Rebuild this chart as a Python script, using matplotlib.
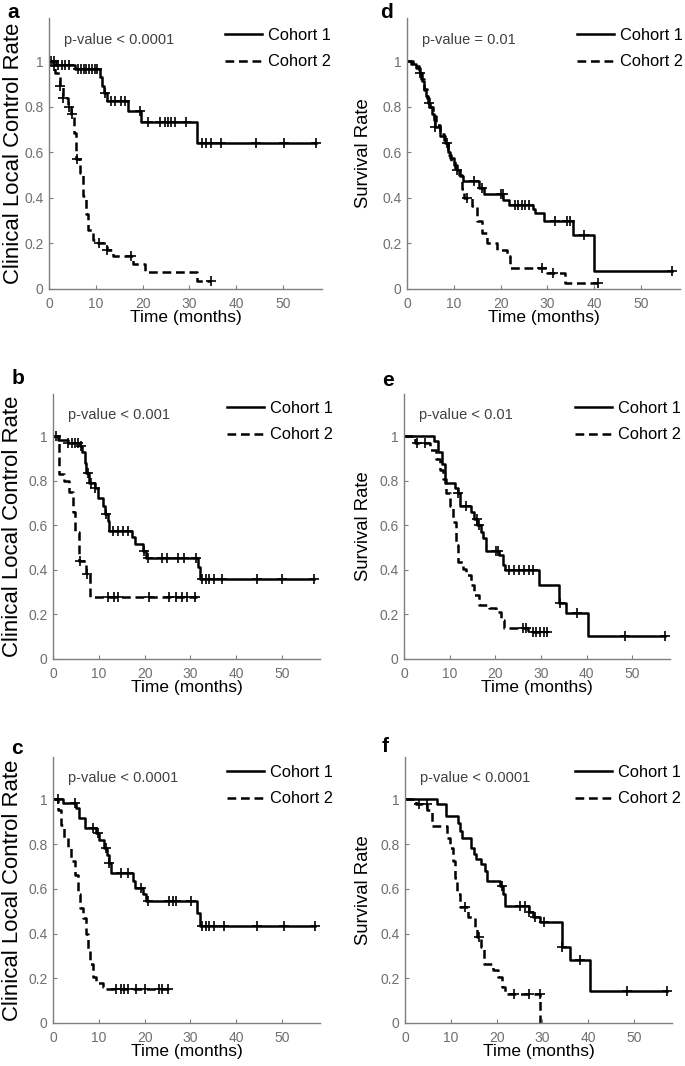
import numpy as np
import matplotlib
matplotlib.use("Agg")
import matplotlib.pyplot as plt

plt.rcParams['font.family'] = ['Liberation Sans', 'DejaVu Sans']

# ---- data: Kaplan-Meier steps (time, survival) ----
# panel a
a1_t = [0, 1.5, 5.5, 10.8, 11.3, 11.8, 12.4, 16.9, 19.6, 31.6]
a1_s = [1, 0.982, 0.966, 0.93, 0.89, 0.86, 0.824, 0.78, 0.733, 0.641]
a1_end = 57.0
a1_cens = [0.5, 1.0, 2.0, 2.8, 3.5, 4.3, 6.2, 6.8, 7.4, 8.0, 8.6, 9.2, 9.8, 10.3,
           12.0, 13.2, 14.2, 15.3, 16.2, 19.5, 21.2, 23.6, 24.7, 25.4, 26.1, 26.9,
           29.3, 32.7, 33.6, 34.7, 36.8, 44.3, 50.2, 57.0]
a2_t = [0, 0.8, 1.2, 2.3, 3.0, 4.1, 4.8, 5.3, 5.7, 6.6, 7.3, 8.0, 8.3, 9.4, 10.5,
        12.3, 13.7, 17.9, 20.4, 31.5]
a2_s = [1, 0.98, 0.95, 0.89, 0.84, 0.80, 0.77, 0.685, 0.57, 0.51, 0.41, 0.33, 0.26,
        0.217, 0.20, 0.173, 0.146, 0.11, 0.073, 0.037]
a2_end = 34.7
a2_cens = [1.0, 2.3, 3.0, 4.3, 4.9, 5.9, 10.6, 12.4, 17.6, 34.7]

# panel b
b1_t = [0, 1.1, 3.3, 5.8, 6.4, 6.9, 7.2, 7.8, 9.1, 9.8, 10.9, 11.4, 12.0, 12.3,
        17.2, 17.8, 19.6, 20.3, 31.7, 32.1]
b1_s = [1, 0.985, 0.97, 0.955, 0.93, 0.88, 0.836, 0.79, 0.77, 0.725, 0.688, 0.65,
        0.62, 0.577, 0.547, 0.517, 0.487, 0.455, 0.413, 0.361]
b1_end = 56.9
b1_cens = [0.7, 3.3, 4.1, 4.8, 5.5, 6.2, 7.6, 8.3, 9.1, 11.6, 13.0, 14.1, 15.2,
           16.3, 19.9, 20.7, 23.9, 25.0, 27.2, 28.6, 31.2, 32.6, 33.3, 34.1, 35.2,
           37.0, 44.6, 50.0, 56.9]
b2_t = [0, 1.3, 2.5, 3.6, 4.3, 4.9, 5.7, 7.2, 8.0]
b2_s = [1, 0.83, 0.80, 0.75, 0.66, 0.57, 0.44, 0.383, 0.277]
b2_end = 31.5
b2_cens = [5.8, 7.4, 12.0, 13.4, 14.3, 21.0, 25.4, 26.8, 28.1, 29.3, 31.1]

# panel c
c1_t = [0, 2.2, 5.1, 5.7, 6.9, 9.4, 10.1, 11.2, 11.7, 12.2, 12.7, 17.4, 18.0,
        19.6, 20.3, 31.5, 32.0]
c1_s = [1, 0.982, 0.96, 0.916, 0.871, 0.849, 0.82, 0.782, 0.753, 0.716, 0.67,
        0.634, 0.604, 0.575, 0.545, 0.493, 0.434]
c1_end = 57.2
c1_cens = [1.1, 4.7, 8.7, 9.8, 11.6, 12.3, 14.9, 16.3, 19.2, 20.7, 25.4, 26.1,
           26.8, 30.1, 32.6, 33.3, 34.0, 35.1, 37.3, 44.6, 50.4, 57.2]
c2_t = [0, 1.1, 1.8, 2.5, 3.3, 4.0, 4.7, 5.4, 5.8, 6.5, 7.1, 7.6, 8.1, 8.7, 9.4,
        10.9, 11.4]
c2_s = [1, 0.953, 0.886, 0.827, 0.782, 0.723, 0.664, 0.575, 0.516, 0.47, 0.397,
        0.33, 0.264, 0.204, 0.178, 0.16, 0.153]
c2_end = 25.8
c2_cens = [13.8, 14.9, 15.6, 16.3, 18.1, 20.1, 23.2, 23.9, 25.2]

# panel d
d1_t = [0, 0.9, 2.0, 2.7, 3.2, 3.7, 4.1, 4.4, 5.0, 5.3, 5.7, 6.0, 7.1, 8.2, 8.7,
        9.2, 10.0, 10.7, 11.4, 11.9, 15.4, 16.4, 20.6, 21.7, 26.9, 27.4, 29.2,
        35.5, 40.0]
d1_s = [1, 0.99, 0.97, 0.95, 0.912, 0.876, 0.846, 0.817, 0.80, 0.77, 0.74, 0.71,
        0.67, 0.64, 0.60, 0.575, 0.546, 0.524, 0.495, 0.473, 0.445, 0.415, 0.39,
        0.37, 0.35, 0.334, 0.30, 0.238, 0.078]
d1_end = 56.5
d1_cens = [2.8, 4.6, 6.0, 8.5, 10.7, 14.3, 16.0, 20.0, 20.5, 23.1, 23.8, 24.5,
           25.2, 26.0, 31.7, 34.1, 34.9, 37.7, 56.5]
d2_t = [0, 1.2, 2.5, 3.0, 3.6, 4.2, 4.8, 5.5, 6.2, 7.0, 8.0, 8.8, 9.5, 10.3, 11.0,
        11.7, 12.2, 13.9, 14.9, 16.0, 17.1, 19.2, 21.3, 22.0, 30.0, 33.8]
d2_s = [1, 0.98, 0.96, 0.92, 0.88, 0.84, 0.80, 0.76, 0.72, 0.68, 0.64, 0.59, 0.56,
        0.53, 0.50, 0.44, 0.40, 0.363, 0.30, 0.246, 0.20, 0.173, 0.143, 0.094,
        0.072, 0.026]
d2_end = 40.8
d2_cens = [12.8, 28.8, 31.2, 40.8]

# panel e
e1_t = [0, 6.5, 7.5, 8.4, 8.9, 11.1, 11.8, 12.2, 14.7, 15.4, 16.0, 16.9, 17.4,
        18.0, 20.9, 21.6, 22.2, 29.6, 34.0, 35.6, 40.4]
e1_s = [1, 0.98, 0.93, 0.874, 0.79, 0.77, 0.747, 0.688, 0.658, 0.628, 0.60, 0.57,
        0.542, 0.487, 0.465, 0.42, 0.398, 0.331, 0.25, 0.205, 0.104]
e1_end = 57.1
e1_cens = [11.8, 13.6, 15.9, 16.5, 20.2, 20.5, 23.1, 24.2, 25.3, 26.4, 27.4,
           28.2, 34.1, 38.0, 48.4, 57.1]
e2_t = [0, 2.5, 5.6, 7.0, 7.8, 8.5, 9.2, 10.0, 10.7, 11.4, 11.8, 12.9, 13.6, 14.7,
        15.4, 16.5, 18.7, 20.2, 21.2, 22.0, 27.1]
e2_s = [1, 0.97, 0.94, 0.90, 0.85, 0.807, 0.747, 0.688, 0.614, 0.51, 0.435, 0.405,
        0.376, 0.331, 0.287, 0.242, 0.227, 0.212, 0.175, 0.141, 0.12]
e2_end = 31.4
e2_cens = [2.8, 4.5, 26.0, 26.7, 28.2, 29.0, 29.8, 30.6, 31.4]

# panel f
f1_t = [0, 6.9, 8.9, 11.6, 12.0, 12.4, 14.5, 15.1, 15.6, 16.7, 17.5, 17.8, 20.8,
        21.3, 21.9, 27.0, 27.9, 29.4, 34.3, 36.1, 40.5]
f1_s = [1, 0.978, 0.926, 0.896, 0.859, 0.829, 0.785, 0.755, 0.733, 0.71, 0.68,
        0.636, 0.614, 0.577, 0.525, 0.495, 0.473, 0.45, 0.339, 0.282, 0.143]
f1_end = 57.3
f1_cens = [21.1, 25.1, 26.2, 27.0, 28.4, 30.3, 34.3, 38.3, 48.5, 57.3]
f2_t = [0, 2.5, 4.8, 5.8, 9.1, 9.8, 10.5, 10.9, 11.3, 12.0, 13.8, 15.3, 15.7,
        16.5, 17.3, 19.2, 20.3, 21.1, 21.9, 29.5]
f2_s = [1, 0.978, 0.955, 0.88, 0.829, 0.785, 0.725, 0.65, 0.577, 0.517, 0.472,
        0.43, 0.383, 0.339, 0.264, 0.235, 0.205, 0.16, 0.131, 0.0]
f2_end = 29.5
f2_cens = [3.1, 4.7, 13.1, 16.2, 23.7, 27.0, 29.4]

p_texts = ["p-value < 0.0001", "p-value < 0.001", "p-value < 0.0001",
           "p-value = 0.01", "p-value < 0.01", "p-value < 0.0001"]
letters = ["a", "b", "c", "d", "e", "f"]
ylabels = ["Clinical Local Control Rate"] * 3 + ["Survival Rate"] * 3
curves = [
    ((a1_t, a1_s, a1_end, a1_cens), (a2_t, a2_s, a2_end, a2_cens)),
    ((b1_t, b1_s, b1_end, b1_cens), (b2_t, b2_s, b2_end, b2_cens)),
    ((c1_t, c1_s, c1_end, c1_cens), (c2_t, c2_s, c2_end, c2_cens)),
    ((d1_t, d1_s, d1_end, d1_cens), (d2_t, d2_s, d2_end, d2_cens)),
    ((e1_t, e1_s, e1_end, e1_cens), (e2_t, e2_s, e2_end, e2_cens)),
    ((f1_t, f1_s, f1_end, f1_cens), (f2_t, f2_s, f2_end, f2_cens)),
]

# layout in pixels
W, H = 685, 1066
boxes = [(49, 322, 18, 289), (53, 320, 394, 659), (53, 320, 757, 1023),
         (407, 680, 18, 289), (404, 670, 394, 659), (405, 672, 757, 1023)]
letter_xy = [(13, 12), (18, 379), (17, 748), (387, 12), (388, 380), (385, 746)]
legend_xy = [(225, 28), (227, 401), (227, 765), (577, 28), (575, 401), (575, 765)]
ylabel_x = [14, 13, 13, 363, 363, 363]
ylabel_size = [15.9, 15.9, 15.9, 13.3, 13.3, 13.3]
GREY = "#7f7f7f"


def draw_km(ax, t, s, end, cens, ls, label):
    t = np.asarray(t, float)
    s = np.asarray(s, float)
    x = np.append(t, end)
    y = np.append(s, s[-1])
    line, = ax.step(x, y, where="post", color="black", lw=1.8, label=label)
    if ls == "--":
        line.set_dashes((3.5, 1.9))
    c = np.asarray(cens, float)
    idx = np.searchsorted(t, c, side="right") - 1
    ax.plot(c, s[idx], ls="none", marker="+", ms=6.5, mew=1.2, color="black")


fig = plt.figure(figsize=(W / 100, H / 100), dpi=100)

for i, (l, r, tp, bt) in enumerate(boxes):
    ax = fig.add_axes([l / W, 1 - bt / H, (r - l) / W, (bt - tp) / H])
    c1, c2 = curves[i]
    draw_km(ax, *c1, "-", "Cohort 1")
    draw_km(ax, *c2, "--", "Cohort 2")
    ax.set_xlim(0, 58.3)
    ax.set_ylim(0, 1.19)
    ax.set_xticks(range(0, 51, 10))
    ax.set_yticks([0, 0.2, 0.4, 0.6, 0.8, 1])
    ax.set_yticklabels(["0", "0.2", "0.4", "0.6", "0.8", "1"])
    for side in ["top", "right"]:
        ax.spines[side].set_visible(False)
    for side in ["left", "bottom"]:
        ax.spines[side].set_color(GREY)
        ax.spines[side].set_linewidth(1.0)
    ax.tick_params(direction="in", length=3, width=0.8, color=GREY,
                   labelcolor="#6f6f6f", labelsize=10)
    ax.tick_params(axis="x", pad=6)
    ax.tick_params(axis="y", pad=4)
    ax.set_xlabel("Time (months)", fontsize=12.5, labelpad=-1)
    ax.set_ylabel(ylabels[i], fontsize=ylabel_size[i], va="center")
    ax.yaxis.set_label_coords((ylabel_x[i] - l) / (r - l), 0.5)
    ax.text(0.055, 0.92, p_texts[i], transform=ax.transAxes, fontsize=10.5,
            color="#404040", va="center", ha="left")
    lx, ly = legend_xy[i]
    ax.legend(loc="upper left", bbox_to_anchor=(lx / W, 1 - ly / H),
              bbox_transform=fig.transFigure, frameon=False, fontsize=11.8,
              handlelength=2.25, handletextpad=0.35, labelspacing=0.7,
              borderaxespad=0, borderpad=0)
    lx, ly = letter_xy[i]
    fig.text(lx / W, 1 - ly / H, letters[i], fontsize=15, fontweight="bold",
             ha="center", va="center")

fig.savefig("out.png", dpi=100)
